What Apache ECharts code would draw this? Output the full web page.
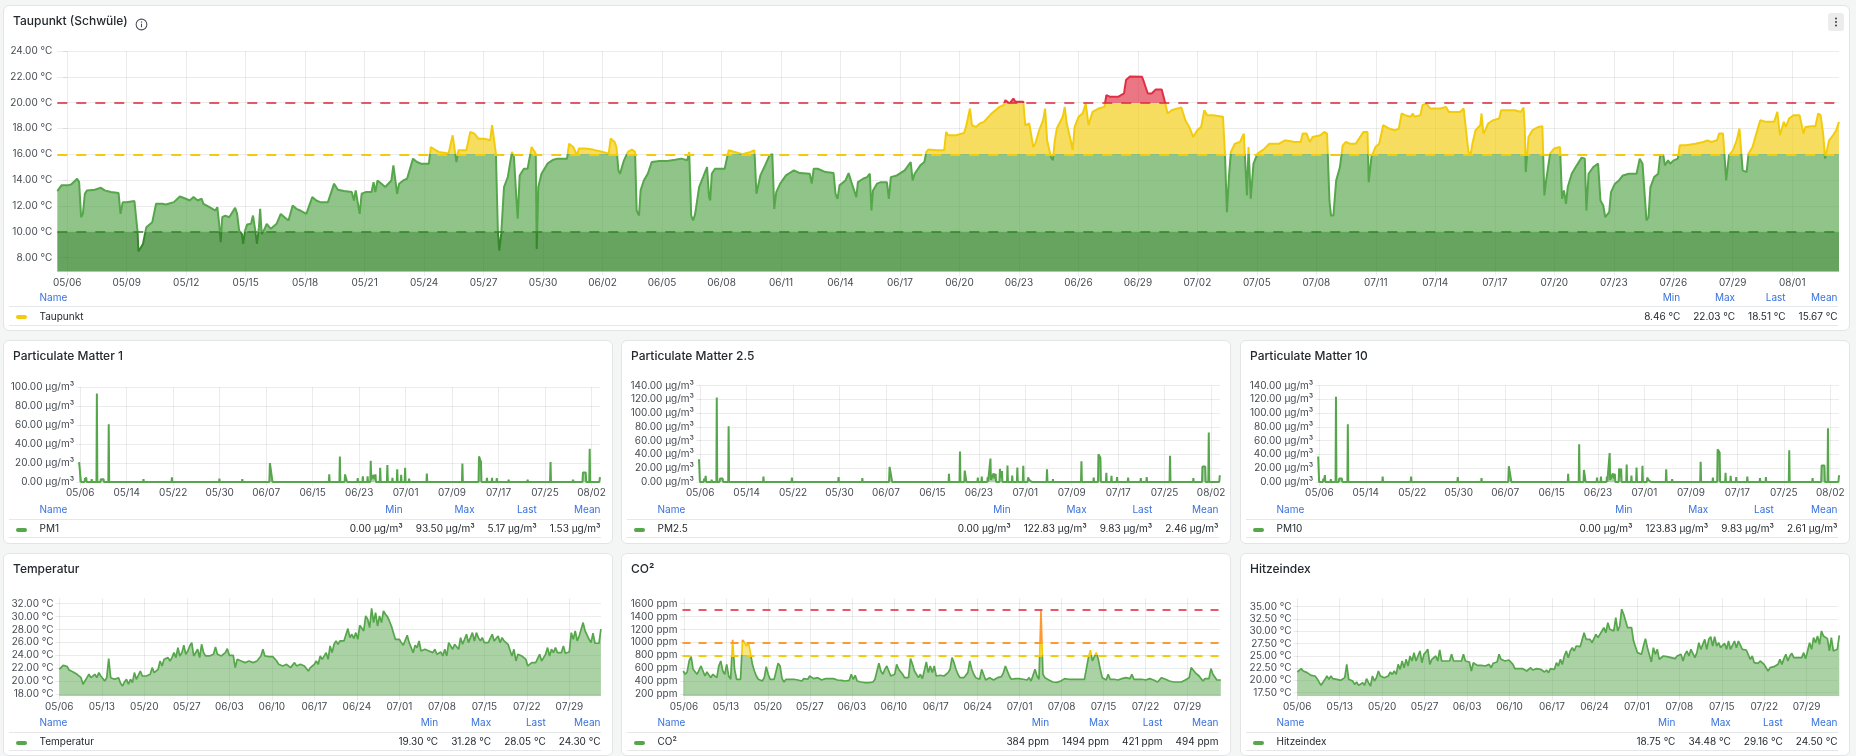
<!DOCTYPE html>
<html>
<head>
<meta charset="utf-8">
<script src="https://cdn.jsdelivr.net/npm/echarts@6/dist/echarts.min.js"></script>
<style>
  html, body { margin: 0; padding: 0; }
  body { width: 1856px; height: 756px; overflow: hidden; position: relative; background: #f4f5f5; font-family: Inter, "Noto Sans", sans-serif; }
  .panel { position: absolute; background: #fff; border: 1px solid #e3e4e6; border-radius: 6px; box-sizing: border-box; overflow: hidden; }
  .chart { position: absolute; left: -1px; top: -1px; right: -1px; bottom: -1px; }
  .title { position: absolute; left: 9px; top: 7px; font-size: 12px; font-weight: 500; line-height: 16px; color: #24292e; white-space: nowrap; }
  .info { position: absolute; left: 131px; top: 9px; }
  .menu { position: absolute; left: 1824px; top: 7px; width: 16px; height: 18px; background: #ececed; border-radius: 3px; }
  .legend { position: absolute; left: 5px; right: 11.5px; font-size: 10px; color: #24292e; }
  .legend table { width: 100%; border-collapse: collapse; }
  .legend th { font-weight: 400; color: #3871dc; text-align: right; padding: 0 0 0 13px; height: 19px; white-space: nowrap; }
  .legend th.name { text-align: left; width: 100%; padding-left: 30.5px; }
  .legend td { text-align: right; padding: 0 0 0 13px; height: 17.5px; border-top: 1px solid #e6e7e9; border-bottom: 1px solid #e6e7e9; white-space: nowrap; }
  .legend td.name { text-align: left; padding-left: 7px; }
  .mk { display: inline-block; width: 11px; height: 4px; border-radius: 2px; vertical-align: middle; margin-right: 12.5px; }
</style>
</head>
<body>
<script type="text/javascript">
// ---- Taupunkt: [Tage seit 05/06, °C]
var taupunkt = [[-0.50,13.15],[-0.29,13.59],[-0.20,13.72],[0,13.59],[0.20,13.66],[0.50,14.10],[0.60,13.84],[0.70,11.12],[0.79,11.38],[0.89,12.94],[1.00,13.20],[1.39,13.25],[1.70,13.40],[1.89,13.20],[2.20,13.07],[2.59,12.99],[2.69,11.38],[2.80,12.29],[2.99,12.29],[3.39,12.37],[3.55,9.96],[3.59,8.46],[3.69,8.46],[3.82,9.05],[3.99,10.35],[4.29,10.74],[4.48,12.16],[4.79,12.16],[4.98,12.11],[5.38,12.29],[5.68,12.73],[5.98,12.55],[6.18,12.42],[6.37,12.68],[6.58,12.42],[6.78,12.55],[6.87,12.16],[7.18,11.90],[7.47,11.64],[7.57,11.90],[7.68,10.35],[7.74,9.18],[7.82,11.12],[7.97,11.25],[8.17,11.12],[8.47,11.85],[8.57,11.38],[8.67,10.09],[8.81,9.83],[8.87,9.05],[8.97,10.09],[9.07,10.55],[9.27,10.61],[9.37,11.25],[9.46,10.35],[9.57,9.05],[9.67,10.35],[9.73,11.77],[9.81,9.83],[9.96,10.22],[10.06,10.61],[10.27,10.22],[10.37,10.35],[10.56,10.61],[10.77,11.38],[10.96,11.12],[11.16,10.87],[11.37,12.03],[11.46,12.16],[11.56,11.77],[11.76,11.64],[12.06,11.38],[12.36,12.68],[12.56,12.42],[12.76,12.29],[13.15,12.29],[13.46,13.72],[13.65,13.25],[13.96,13.15],[14.35,13.07],[14.46,12.42],[14.55,13.20],[14.65,13.07],[14.75,11.38],[14.85,12.94],[15.05,13.07],[15.35,13.07],[15.45,13.84],[15.54,13.07],[15.65,13.97],[15.85,13.72],[16.04,13.46],[16.35,13.97],[16.45,15.14],[16.54,15.01],[16.64,12.94],[16.74,13.72],[16.95,13.97],[17.14,14.10],[17.44,15.66],[17.64,15.40],[17.84,15.27],[18.24,15.27],[18.34,16.56],[18.54,16.36],[18.74,16.18],[19.23,16.05],[19.44,17.47],[19.54,17.34],[19.63,15.40],[19.73,16.31],[19.83,16.44],[20.13,16.31],[20.33,17.73],[20.54,17.60],[20.73,17.21],[21.03,17.21],[21.33,17.08],[21.43,18.25],[21.53,18.12],[21.62,16.05],[21.72,10.09],[21.79,8.53],[21.89,9.83],[22.03,13.46],[22.22,14.23],[22.43,16.18],[22.53,15.79],[22.62,13.46],[22.72,11.00],[22.82,14.36],[23.03,14.88],[23.22,14.88],[23.42,16.56],[23.63,16.05],[23.68,8.66],[23.76,13.46],[23.92,14.49],[24.22,15.27],[24.52,15.58],[24.71,15.66],[25.21,15.66],[25.31,16.82],[25.52,16.56],[25.71,15.92],[25.81,16.44],[26.12,16.44],[26.51,16.36],[27.01,16.18],[27.31,16.05],[27.41,17.21],[27.61,16.95],[27.70,16.56],[27.80,14.75],
[27.88,14.49],[28.08,15.53],[28.28,16.18],[28.48,16.36],[28.64,16.18],[28.72,11.64],[28.84,11.25],[28.92,13.20],[29.08,13.97],[29.28,14.49],[29.48,15.40],[29.87,15.48],[30.27,15.48],[30.67,15.58],[30.97,15.66],[31.27,15.53],[31.37,16.18],[31.47,11.25],[31.57,10.87],[31.67,11.38],[31.87,13.46],[32.07,14.23],[32.27,15.01],[32.37,12.68],[32.43,12.42],[32.51,14.49],[32.67,14.88],[33.16,14.88],[33.36,16.31],[33.66,16.18],[34.06,16.00],[34.46,16.18],[34.66,16.31],[34.76,12.94],[34.82,12.81],[34.96,14.36],[35.16,15.01],[35.42,15.92],[35.56,16.05],[35.66,11.77],[35.76,13.07],[35.96,13.72],[36.25,14.36],[36.65,14.75],[36.95,14.54],[37.45,14.49],[37.55,13.72],[37.65,14.88],[37.85,14.88],[38.25,14.62],[38.65,14.54],[38.75,12.94],[38.85,12.55],[38.95,13.59],[39.25,13.97],[39.41,14.54],[39.55,13.84],[39.65,13.97],[39.80,12.68],[39.88,13.84],[40.14,14.10],[40.34,14.23],[40.48,14.49],[40.56,11.64],[40.64,13.20],[40.84,13.72],[41.04,13.84],[41.34,13.84],[41.44,12.55],[41.54,14.23],[41.84,14.36],[42.24,14.75],[42.54,15.40],[42.64,13.97],[42.74,14.49],[43.03,15.14],[43.23,15.40],[43.33,16.18],[43.43,16.36],[43.83,16.31],[44.23,16.31],[44.33,17.73],[44.43,17.47],[44.83,17.47],[45.23,17.65],[45.33,18.12],[45.53,19.54],[45.63,18.25],[45.83,18.12],[46.03,18.38],[46.23,18.51],[46.62,19.16],[47.02,19.67],[47.22,19.80],[47.32,20.19],[47.52,19.93],[47.72,20.32],[47.82,20.06],[48.22,20.06],[48.32,18.25],[48.52,18.38],[48.72,16.56],[48.82,16.82],[49.02,17.86],[49.22,18.64],[49.32,19.54],[49.42,17.08],[49.61,15.79],[49.71,15.53],[49.81,17.08],[49.91,17.99],[50.21,18.90],[50.31,19.67],[50.41,18.38],[50.61,17.08],[50.71,16.31],[50.81,18.12],[51.01,18.90],[51.21,19.16],[51.37,19.93],[51.51,18.25],[51.71,19.28],[52.01,19.54],[52.31,19.67],[52.41,20.58],[52.61,20.45],[53.00,20.45],[53.30,20.71],[53.40,21.75],[53.60,22.03],[54.20,22.01],[54.30,21.62],[54.40,21.75],[54.50,20.71],[54.70,20.71],[54.90,21.02],[55.20,21.02],[55.36,20.06],[55.50,19.16],[55.70,19.41],[55.99,19.54],[56.19,19.62],[56.29,19.16],[56.39,18.64],[56.59,18.12],[56.79,17.34],[56.99,17.86],[57.19,18.12],[57.35,19.41],[57.49,19.03],[57.79,19.03],[58.29,18.90],[58.39,16.05],[58.49,11.51],[58.59,14.23],[58.69,16.18],[58.89,16.82],[59.15,16.95],
[59.34,17.60],[59.44,17.73],[59.50,12.81],[59.58,16.56],[59.69,12.55],[59.83,15.27],[60.03,16.05],[60.33,16.36],[60.63,16.82],[61.12,16.82],[61.42,17.08],[61.91,16.95],[62.21,16.95],[62.31,17.60],[62.51,17.60],[62.67,16.95],[62.81,17.34],[63.20,17.47],[63.40,17.73],[63.54,17.60],[63.66,12.42],[63.74,11.25],[63.86,11.25],[64.00,13.97],[64.19,15.01],[64.33,16.69],[64.49,16.95],[64.69,16.82],[64.99,16.82],[65.08,16.69],[65.38,17.73],[65.58,17.73],[65.64,13.84],[65.78,15.79],[65.98,16.56],[66.17,16.82],[66.37,18.25],[66.67,17.99],[66.97,17.86],[67.16,17.99],[67.30,19.16],[67.46,19.03],[67.76,18.90],[67.86,19.16],[67.96,18.90],[68.25,19.03],[68.35,19.80],[68.55,19.93],[68.75,19.54],[69.25,19.54],[69.34,19.67],[69.54,19.67],[69.68,19.28],[70.24,19.28],[70.43,19.54],[70.53,19.41],[70.67,16.18],[70.79,16.05],[70.87,16.82],[71.03,17.86],[71.27,18.25],[71.33,19.16],[71.42,17.60],[71.52,17.86],[71.66,18.38],[71.92,18.64],[72.22,18.77],[72.32,19.41],[72.61,19.41],[73.01,19.41],[73.31,19.28],[73.45,19.62],[73.51,18.12],[73.56,14.62],[73.70,17.34],[73.90,17.86],[74.20,18.12],[74.40,18.17],[74.50,12.81],[74.59,13.97],[74.79,16.05],[74.99,16.44],[75.29,16.56],[75.39,12.55],[75.49,13.20],[75.59,12.16],[75.68,13.46],[75.88,14.49],[76.08,15.01],[76.38,15.74],[76.54,15.66],[76.62,11.64],[76.73,14.49],[76.97,15.01],[77.21,15.27],[77.33,12.42],[77.47,12.03],[77.57,11.12],[77.67,11.00],[77.77,11.51],[77.86,13.07],[78.06,13.72],[78.26,13.97],[78.46,14.36],[78.76,14.49],[79.15,14.49],[79.31,15.66],[79.45,15.27],[79.55,15.40],[79.65,10.87],[79.75,11.12],[79.85,13.46],[80.04,14.23],[80.24,14.49],[80.34,15.92],[80.50,15.92],[80.58,15.14],[80.74,15.53],[80.84,15.27],[81.03,15.53],[81.23,15.66],[81.33,16.69],[81.63,16.69],[82.12,16.82],[82.52,16.95],[82.72,17.08],[82.92,16.95],[83.21,17.08],[83.31,17.60],[83.51,17.60],[83.67,13.97],[83.81,15.92],[84.01,16.31],[84.20,17.08],[84.34,17.99],[84.50,14.75],[84.70,14.62],[84.80,16.05],[85.00,16.56],[85.19,17.60],[85.39,18.64],[85.69,18.51],[86.09,18.51],[86.25,19.28],[86.38,17.47],[86.58,18.51],[86.68,18.12],[86.84,18.77],[87.08,19.03],[87.37,19.03],[87.57,17.60],[87.67,18.12],[87.97,18.17],[88.17,18.17],[88.31,19.16],[88.43,19.03],[88.56,17.60],[88.66,15.66],[88.76,15.53],[88.86,17.08],[89.06,17.47],[89.22,17.86],[89.36,18.51]];

// ---- Feinstaub: [Tage seit 05/06, µg/m³]
var pm1 = [[-0.2,21],[0.02,20.4],[0.12,0],[0.74,0],[0.82,4],[0.9,0.5],[1.02,5],[1.1,0],[1.9,0],[1.97,3],[2.04,0],[2.79,0],[2.86,93.5],[2.94,0],[3.47,0],[3.54,3],[3.8,2.5],[4.01,3],[4.08,0],[4.83,0],[4.9,61],[4.98,0],[5.51,0],[5.58,2],[5.65,0],[10.81,0],[10.88,3],[10.95,0],[15.71,0],[15.78,5],[15.85,0],[23.88,0],[23.95,3.5],[24.02,0],[27.82,0],[27.89,3],[27.96,0],[32.55,0],[32.65,20],[32.99,20],[33.09,0],[42.79,0],[42.86,8],[42.93,0],[44.61,0],[44.69,27],[44.77,0],[45.5,0],[45.58,8],[45.85,8],[45.93,0],[47.69,0],[47.76,4],[47.83,0],[48.57,0],[48.64,6],[48.71,0],[49.39,0],[49.46,6],[49.53,0],[49.93,0],[50.0,22.5],[50.08,3],[50.48,7.5],[50.65,3],[50.82,8],[50.9,0],[51.55,0],[51.63,15],[51.72,0],[52.78,0],[52.86,18],[52.95,0],[53.67,0],[53.74,4.5],[53.81,0],[54.48,0],[54.56,13.5],[54.64,0],[55.17,0],[55.24,7.5],[55.31,0],[55.84,0],[55.92,15],[56.0,0],[56.53,0],[56.6,3.5],[56.67,0],[59.59,0],[59.66,9],[59.73,0],[60.75,0],[60.82,2],[60.89,0],[65.7,0],[65.78,19.5],[65.86,0],[67.62,0],[67.69,2],[67.76,0],[68.56,0],[68.64,27],[68.98,21],[69.06,0],[69.93,0],[70.0,4.5],[70.07,0],[70.81,0],[70.88,4.5],[70.95,0],[71.63,0],[71.7,4],[71.77,0],[73.67,0],[73.74,2.5],[73.81,0],[75.92,0],[75.99,2],[76.06,0],[76.94,0],[77.01,2.5],[77.08,0],[80.87,0],[80.95,21],[81.03,0],[84.76,0],[84.83,2.5],[84.9,0],[86.45,0],[86.53,10],[87.01,10],[87.09,0],[87.61,0],[87.69,35],[87.77,0],[88.71,0],[88.78,2],[88.85,0],[89.35,0],[89.46,5.2]];
var pm25 = [[-0.2,33],[-0.14,33],[-0.04,0],[0.6,0],[0.68,5],[0.8,1],[0.95,9],[1.03,0],[1.91,0],[1.98,3.5],[2.05,0],[2.79,0],[2.86,122.8],[2.94,0],[3.34,0],[3.41,5],[3.65,4],[3.88,5],[3.95,0],[4.83,0],[4.9,81],[4.98,0],[5.52,0],[5.59,2.5],[5.66,0],[7.77,0],[7.83,1.5],[7.89,0],[10.83,0],[10.9,8],[10.97,0],[15.73,0],[15.8,6.5],[15.87,0],[16.77,0],[16.83,2.5],[16.89,0],[23.77,0],[23.84,7],[23.91,0],[25.62,0],[25.68,1.5],[25.74,0],[27.86,0],[27.93,5.5],[28.0,0],[32.53,0],[32.63,22],[32.97,22],[33.07,0],[38.77,0],[38.83,1.5],[38.89,0],[39.79,0],[39.85,1.5],[39.91,0],[42.78,0],[42.85,12],[42.92,0],[44.67,0],[44.75,44.5],[44.83,0],[45.49,0],[45.57,16.5],[45.78,16.5],[45.86,0],[47.75,0],[47.82,6.5],[47.89,0],[48.43,0],[48.5,8],[48.57,0],[49.45,0],[49.52,7],[49.59,0],[49.92,0],[50.0,34],[50.08,3],[50.54,12.5],[50.7,5],[50.89,12],[50.97,0],[51.55,0],[51.63,19],[51.8,6],[51.98,16],[52.06,0],[52.85,0],[52.93,24],[53.01,0],[53.68,0],[53.75,9.5],[53.82,0],[54.55,0],[54.63,21],[54.71,0],[55.57,0],[55.65,23.5],[55.73,0],[56.4,0],[56.47,6.5],[56.7,3],[57.02,5],[57.09,0],[59.66,0],[59.74,18.5],[59.82,0],[60.69,0],[60.76,4],[60.83,0],[65.59,0],[65.67,30],[65.75,0],[67.71,0],[67.78,6.5],[67.85,0],[68.52,0],[68.6,40.5],[68.94,35],[69.02,0],[69.89,0],[69.96,13.5],[70.03,0],[70.77,0],[70.84,9],[70.91,0],[71.73,0],[71.8,7],[71.87,0],[73.64,0],[73.71,6.5],[73.78,0],[75.82,0],[75.89,5.5],[75.96,0],[76.84,0],[76.91,7],[76.98,0],[77.59,0],[77.66,2.5],[77.73,0],[79.78,0],[79.84,1.5],[79.9,0],[80.85,0],[80.93,38],[81.01,0],[84.88,0],[84.95,5.5],[85.02,0],[86.43,0],[86.51,22.5],[86.99,22.5],[87.07,0],[87.52,0],[87.6,72],[87.68,0],[88.62,0],[88.69,2.5],[88.76,0],[89.4,0],[89.5,9.8]];
var pm10 = [[-0.2,37],[-0.14,37],[-0.04,0],[0.6,0],[0.68,5],[0.8,1],[0.95,10],[1.03,0],[1.91,0],[1.98,4],[2.05,0],[2.79,0],[2.86,123.8],[2.94,0],[3.34,0],[3.41,5],[3.65,4],[3.88,5],[3.95,0],[4.83,0],[4.9,84],[4.98,0],[5.52,0],[5.59,2.5],[5.66,0],[7.77,0],[7.83,1.5],[7.89,0],[10.83,0],[10.9,8],[10.97,0],[15.73,0],[15.8,8],[15.87,0],[16.77,0],[16.83,2.5],[16.89,0],[23.77,0],[23.84,7],[23.91,0],[25.62,0],[25.68,1.5],[25.74,0],[27.86,0],[27.93,5.5],[28.0,0],[32.53,0],[32.63,23],[32.97,23],[33.07,0],[38.77,0],[38.83,1.5],[38.89,0],[39.79,0],[39.85,1.5],[39.91,0],[42.78,0],[42.85,12],[42.92,0],[44.67,0],[44.75,55],[44.83,0],[45.49,0],[45.57,17.5],[45.78,17.5],[45.86,0],[47.75,0],[47.82,6.5],[47.89,0],[48.43,0],[48.5,8],[48.57,0],[49.45,0],[49.52,8],[49.59,0],[49.92,0],[50.0,42],[50.08,3],[50.54,12.5],[50.7,5],[50.89,12],[50.97,0],[51.55,0],[51.63,20],[51.8,7],[51.98,19.5],[52.06,0],[52.85,0],[52.93,25.5],[53.01,0],[53.68,0],[53.75,9.5],[53.82,0],[54.55,0],[54.63,21],[54.71,0],[55.57,0],[55.65,23.5],[55.73,0],[56.4,0],[56.47,6.5],[56.7,3],[57.02,5],[57.09,0],[59.66,0],[59.74,18.5],[59.82,0],[60.69,0],[60.76,4],[60.83,0],[65.59,0],[65.67,29.5],[65.75,0],[67.71,0],[67.78,6.5],[67.85,0],[68.52,0],[68.6,47.5],[68.94,43],[69.02,0],[69.89,0],[69.96,13.5],[70.03,0],[70.77,0],[70.84,9],[70.91,0],[71.73,0],[71.8,7],[71.87,0],[73.64,0],[73.71,8],[73.78,0],[75.82,0],[75.89,5.5],[75.96,0],[76.84,0],[76.91,7],[76.98,0],[77.59,0],[77.66,2.5],[77.73,0],[79.78,0],[79.84,1.5],[79.9,0],[80.85,0],[80.93,46],[81.01,0],[84.88,0],[84.95,5.5],[85.02,0],[86.43,0],[86.51,24],[86.99,24],[87.07,0],[87.52,0],[87.6,78],[87.68,0],[88.62,0],[88.69,2.5],[88.76,0],[89.4,0],[89.5,9.8]];

var tempStart = 0, tempStep = 0.3255;
var tempVals = [21.86,21.76,22.48,22.38,22.27,21.76,21.6,21.45,21.24,21.09,20.83,20.57,19.55,19.8,20.57,21.09,20.57,20.32,21.09,20.57,21.35,20.83,20.57,20.06,20.57,23.51,20.57,20.83,20.32,20.06,20.57,19.7,19.3,19.91,20.32,19.55,20.32,19.8,21.35,20.32,20.06,21.6,20.83,21.09,20.83,21.09,21.09,22.12,21.35,21.6,21.86,23.15,22.38,23.4,23.15,23.66,23.15,23.66,24.43,23.66,25.21,23.92,24.43,25.57,24.18,24.69,25.46,25.98,23.92,24.18,24.95,23.66,25.72,24.43,23.92,24.18,23.92,23.82,24.18,25.31,24.18,24.02,23.92,23.82,24.43,25.05,24.02,24.02,24.02,22.12,23.4,23.3,23.15,22.99,22.89,23.15,23.15,22.89,22.89,23.15,23.15,22.89,23.92,24.95,23.92,23.92,23.82,23.66,23.82,23.92,23.15,22.63,22.48,22.38,22.48,22.63,22.38,22.12,22.27,22.89,22.38,22.48,22.63,22.48,22.38,22.12,21.6,22.12,22.38,22.63,23.15,22.63,23.92,23.4,23.15,24.43,23.4,25.46,24.43,25.72,26.24,25.72,26.24,26.24,26.24,26.49,28.14,26.75,27.27,26.6,27.52,26.49,28.65,28.81,27.78,30.1,29.58,28.29,31.28,29.07,30.61,28.55,30.1,29.07,30.87,30.35,29.99,29.32,28.55,28.55,26.49,26.75,26.49,25.98,25.57,25.46,27.11,25.98,26.24,24.43,25.57,25.21,26.24,24.69,24.85,24.95,24.85,24.69,24.54,24.43,24.95,24.18,24.43,24.54,23.92,24.95,23.92,25.98,25.46,24.95,25.72,25.46,24.95,26.75,25.72,26.49,27.27,25.98,26.75,27.52,26.24,27.52,26.75,26.24,26.75,25.98,26.24,25.98,25.72,27.27,26.24,25.98,27.01,25.98,26.75,26.24,25.98,25.72,25.46,23.92,24.95,23.15,24.18,24.02,23.92,23.66,23.4,22.38,22.63,22.89,22.89,22.89,23.15,24.18,23.15,23.66,24.18,25.21,23.92,24.95,24.43,25.21,24.43,24.69,24.43,25.46,24.33,24.43,24.54,27.52,26.49,27.78,26.24,27.01,27.27,29.07,27.78,27.52,26.49,25.98,27.42,25.88,25.98,25.88,28.05];

var co2Start = -0.13, co2Step = 0.3298;
var co2Vals = [560,509,545,715,782,586,560,509,483,638,560,483,545,560,457,509,483,457,638,715,560,509,663,483,432,1040,586,432,406,432,1040,998,946,998,843,663,560,483,432,442,406,457,627,509,432,406,432,406,679,638,442,390,432,421,432,421,432,427,421,432,406,442,421,432,483,457,442,432,457,432,421,432,442,457,442,432,442,432,421,406,416,421,406,432,416,509,432,494,406,421,390,380,380,384,380,384,390,432,406,679,560,509,586,638,560,483,457,509,663,586,612,509,457,432,457,751,663,560,509,457,509,442,457,699,535,638,535,638,483,483,494,473,483,494,535,586,766,689,586,509,457,432,457,432,535,715,586,509,457,432,432,586,612,421,406,457,442,421,432,457,432,473,535,638,612,483,432,457,442,432,442,421,432,406,421,457,406,432,586,483,432,1494,509,457,442,421,406,390,384,384,384,406,390,442,457,432,421,432,427,432,421,432,427,432,406,766,880,715,689,845,740,586,457,432,421,509,432,457,432,442,421,432,442,421,457,432,442,509,432,457,432,406,432,457,421,406,442,457,421,406,390,406,457,442,432,421,406,406,390,406,390,406,390,406,421,432,457,612,576,535,509,483,442,406,442,432,442,597,509,483,421,406,421];

var hitzeStart = 0, hitzeStep = 0.3262;
var hitzeVals = [21.70,21.57,22.38,21.91,22.11,21.57,21.23,21.02,20.69,20.89,20.35,20.21,18.99,19.19,20.21,20.89,20.21,20.89,20.35,20.69,20.21,20.41,20.01,19.67,20.55,23.26,20.21,20.55,19.87,19.19,19.67,18.99,18.75,19.53,18.99,20.35,19.53,18.85,20.89,19.87,20.55,21.91,20.89,21.02,20.55,20.89,20.89,21.70,21.23,21.91,21.23,23.26,22.25,23.94,22.58,24.28,22.92,24.96,23.94,25.64,23.94,24.96,25.98,23.60,25.30,25.77,26.32,23.26,24.28,23.94,24.96,23.94,26.18,23.94,24.28,23.94,24.15,23.94,25.30,23.94,23.74,23.94,23.74,23.94,25.30,23.94,23.74,23.74,21.91,23.60,23.26,23.06,22.92,23.06,23.26,22.92,22.58,23.26,22.58,23.47,23.26,23.74,25.30,24.28,24.15,23.94,23.74,24.15,23.94,23.26,22.38,22.58,22.38,22.25,22.38,22.11,21.91,22.25,22.58,22.11,22.25,22.38,22.11,22.25,21.91,21.70,22.11,21.57,22.38,22.58,22.25,23.60,22.92,24.28,23.26,24.96,25.98,24.62,25.98,26.66,25.98,26.99,26.86,26.86,26.99,29.71,28.35,28.01,28.35,27.67,28.01,29.37,28.69,29.03,30.05,30.73,29.71,31.74,30.39,30.73,30.05,32.76,30.05,31.07,34.48,33.44,33.10,30.73,31.07,30.73,28.01,28.01,25.64,25.77,25.30,26.99,28.49,26.66,26.33,23.74,26.66,25.30,26.32,24.28,24.62,24.96,24.96,24.82,24.96,24.62,24.96,24.42,24.96,24.62,25.30,23.94,25.30,25.98,24.96,26.32,25.98,24.62,25.64,27.67,26.32,27.33,28.35,26.32,28.35,28.89,26.99,28.89,26.99,27.67,26.66,26.99,27.54,26.32,28.01,26.32,26.66,28.01,26.66,28.01,28.35,26.32,26.66,26.18,25.98,24.28,24.96,23.60,23.94,23.47,23.94,23.60,23.26,22.58,21.91,22.58,22.79,22.79,22.92,23.26,24.28,23.26,24.42,25.30,23.94,24.96,25.50,24.62,24.96,24.62,24.96,24.62,25.64,24.42,24.62,27.67,26.32,28.69,27.67,29.03,27.33,30.05,29.03,28.69,28.49,25.98,28.69,25.98,26.18,26.32,29.16];

// ---- Achsen-Ticks
var ticks3d = [0,3,6,9,12,15,18,21,24,27,30,33,36,39,42,45,48,51,54,57,60,63,66,69,72,75,78,81,84,87];
var ticks8d = [0,8,16,24,32,40,48,56,64,72,80,88];
var ticks7d = [0,7,14,21,28,35,42,49,56,63,70,77,84];
var taupunktTicks = [8,10,12,14,16,18,20,22,24];
var pm1Ticks = [0,20,40,60,80,100];
var pm25Ticks = [0,20,40,60,80,100,120,140];
var tempTicks = [18,20,22,24,26,28,30,32];
var co2Ticks = [200,400,600,800,1000,1200,1400,1600];
var hitzeTicks = [17.5,20,22.5,25,27.5,30,32.5,35];

// ---- Schwellwerte
var taupunktSteps = [10, 16, 20];
var co2Steps = [800, 1000, 1500];

// ---- Legenden: Min, Max, Last, Mean
var taupunktStats = ['8.46 °C','22.03 °C','18.51 °C','15.67 °C'];
var pm1Stats = ['0.00 µg/m³','93.50 µg/m³','5.17 µg/m³','1.53 µg/m³'];
var pm25Stats = ['0.00 µg/m³','122.83 µg/m³','9.83 µg/m³','2.46 µg/m³'];
var pm10Stats = ['0.00 µg/m³','123.83 µg/m³','9.83 µg/m³','2.61 µg/m³'];
var tempStats = ['19.30 °C','31.28 °C','28.05 °C','24.30 °C'];
var co2Stats = ['384 ppm','1494 ppm','421 ppm','494 ppm'];
var hitzeStats = ['18.75 °C','34.48 °C','29.16 °C','24.50 °C'];

var GREEN = '#56A64B', DKGREEN = '#37872D', YELLOW = '#F2CC0C', ORANGE = '#FF9830', RED = '#E02F44';
var GRID = 'rgba(0,0,0,0.075)', LABEL = '#474c53';

function seq(start, step, vals) {
  return vals.map(function (v, i) { return [start + i * step, v]; });
}
function dayLabel(d) {
  var t = new Date(2025, 4, 6 + Math.round(d));
  return String(t.getMonth() + 1).padStart(2, '0') + '/' + String(t.getDate()).padStart(2, '0');
}
function simpleSeries(data, w) {
  return [{
    type: 'line', data: data, showSymbol: false, symbol: 'none',
    lineStyle: { width: w, color: GREEN }, itemStyle: { color: GREEN },
    areaStyle: { color: 'rgba(86,166,75,0.5)', opacity: 1, origin: 'start' }
  }];
}
function dashed(values, colors, dash) {
  return {
    symbol: 'none', silent: true, label: { show: false }, animation: false,
    data: values.map(function (v, i) {
      return { yAxis: v, lineStyle: { color: colors[i], type: dash, width: 2 } };
    })
  };
}

var panels = [
  { title: 'Taupunkt (Schwüle)', extras: true, box: [3, 5, 1847, 326], grid: [54.3, 46, 11, 59.3],
    x: [-0.5, 89.36], xt: ticks3d, y: [6.9, 24], yt: taupunktTicks, fmt: function (v) { return v.toFixed(2) + ' °C'; },
    legendTop: 281, name: 'Taupunkt', mk: YELLOW, stats: taupunktStats,
    visualMap: [
      { type: 'piecewise', show: false, seriesIndex: 0, dimension: 1, pieces: [
        { lt: 10, color: 'rgba(55,135,45,0.76)' }, { gte: 10, lt: 16, color: 'rgba(86,166,75,0.66)' },
        { gte: 16, lt: 20, color: 'rgba(242,204,12,0.66)' }, { gte: 20, color: 'rgba(224,47,68,0.66)' }] },
      { type: 'piecewise', show: false, seriesIndex: 1, dimension: 1, pieces: [
        { lt: 10, color: DKGREEN }, { gte: 10, lt: 16, color: GREEN },
        { gte: 16, lt: 20, color: YELLOW }, { gte: 20, color: RED }] }
    ],
    series: [
      { type: 'line', data: taupunkt, showSymbol: false, symbol: 'none', silent: true, z: 1,
        lineStyle: { width: 0 }, areaStyle: { opacity: 1, origin: 'start' } },
      { type: 'line', data: taupunkt, showSymbol: false, symbol: 'none', z: 2, lineStyle: { width: 2 },
        markLine: dashed(taupunktSteps, ['rgba(55,135,45,0.8)', YELLOW, 'rgba(224,47,68,0.8)'], [10, 9]) }
    ] },
  { title: 'Particulate Matter 1', box: [3, 340, 610, 204], grid: [76.1, 47.3, 12.8, 62],
    x: [-0.2, 89.5], xt: ticks8d, y: [0, 100], yt: pm1Ticks, fmt: function (v) { return v.toFixed(2) + ' µg/m³'; },
    legendTop: 158.5, name: 'PM1', mk: GREEN, stats: pm1Stats, series: simpleSeries(pm1, 2) },
  { title: 'Particulate Matter 2.5', box: [621, 340, 610, 204], grid: [78, 45.7, 11.2, 62],
    x: [-0.2, 89.5], xt: ticks8d, y: [0, 140], yt: pm25Ticks, fmt: function (v) { return v.toFixed(2) + ' µg/m³'; },
    legendTop: 158.5, name: 'PM2.5', mk: GREEN, stats: pm25Stats, series: simpleSeries(pm25, 2) },
  { title: 'Particulate Matter 10', box: [1240, 340, 610, 204], grid: [78.2, 45.7, 11, 62],
    x: [-0.2, 89.5], xt: ticks8d, y: [0, 140], yt: pm25Ticks, fmt: function (v) { return v.toFixed(2) + ' µg/m³'; },
    legendTop: 158.5, name: 'PM10', mk: GREEN, stats: pm10Stats, series: simpleSeries(pm10, 2) },
  { title: 'Temperatur', box: [3, 553, 610, 203], grid: [55.5, 45.3, 12, 60],
    x: [-0.13, 89.2], xt: ticks7d, y: [17.74, 32.82], yt: tempTicks, fmt: function (v) { return v.toFixed(2) + ' °C'; },
    legendTop: 158.5, name: 'Temperatur', mk: GREEN, stats: tempStats, series: simpleSeries(seq(tempStart, tempStep, tempVals), 1.7) },
  { title: 'CO²', box: [621, 553, 610, 203], grid: [61.5, 45.3, 10.8, 60],
    x: [-0.25, 89.47], xt: ticks7d, y: [174, 1682], yt: co2Ticks, fmt: function (v) { return v + ' ppm'; },
    legendTop: 158.5, name: 'CO²', mk: GREEN, stats: co2Stats,
    visualMap: [{ type: 'piecewise', show: false, seriesIndex: 0, dimension: 1, pieces: [
      { lt: 800, color: GREEN }, { gte: 800, lt: 1000, color: YELLOW },
      { gte: 1000, lt: 1500, color: ORANGE }, { gte: 1500, color: RED }] }],
    series: [{ type: 'line', data: seq(co2Start, co2Step, co2Vals), showSymbol: false, symbol: 'none',
      lineStyle: { width: 1.7 }, areaStyle: { opacity: 0.5, origin: 'start' },
      markLine: dashed(co2Steps, [YELLOW, ORANGE, 'rgba(224,47,68,0.8)'], [8, 8]) }] },
  { title: 'Hitzeindex', box: [1240, 553, 610, 203], grid: [56.5, 45.3, 11.8, 60],
    x: [-0.13, 89.2], xt: ticks7d, y: [16.82, 36.7], yt: hitzeTicks, fmt: function (v) { return v.toFixed(2) + ' °C'; },
    legendTop: 158.5, name: 'Hitzeindex', mk: GREEN, stats: hitzeStats, series: simpleSeries(seq(hitzeStart, hitzeStep, hitzeVals), 1.7) }
];

function buildPanel(p) {
  var el = document.createElement('div');
  el.className = 'panel';
  el.style.left = p.box[0] + 'px'; el.style.top = p.box[1] + 'px';
  el.style.width = p.box[2] + 'px'; el.style.height = p.box[3] + 'px';
  document.body.appendChild(el);

  var cv = document.createElement('div');
  cv.className = 'chart';
  el.appendChild(cv);

  var t = document.createElement('div');
  t.className = 'title';
  t.textContent = p.title;
  el.appendChild(t);

  if (p.extras) {
    var info = document.createElement('div');
    info.className = 'info';
    info.innerHTML = '<svg width="13" height="13" viewBox="0 0 16 16"><circle cx="8" cy="8" r="6.6" fill="none" stroke="#4b5057" stroke-width="1.3"/><rect x="7.35" y="7" width="1.3" height="4.4" fill="#4b5057"/><circle cx="8" cy="4.9" r="0.9" fill="#4b5057"/></svg>';
    el.appendChild(info);
    var menu = document.createElement('div');
    menu.className = 'menu';
    menu.innerHTML = '<svg width="16" height="18" viewBox="0 0 16 18"><circle cx="8" cy="5.5" r="1" fill="#3a3f45"/><circle cx="8" cy="9" r="1" fill="#3a3f45"/><circle cx="8" cy="12.5" r="1" fill="#3a3f45"/></svg>';
    el.appendChild(menu);
  }

  var lg = document.createElement('div');
  lg.className = 'legend';
  lg.style.top = p.legendTop + 'px';
  lg.innerHTML = '<table><tr><th class="name">Name</th><th>Min</th><th>Max</th><th>Last</th><th>Mean</th></tr>' +
    '<tr><td class="name"><span class="mk" style="background:' + p.mk + '"></span>' + p.name + '</td>' +
    p.stats.map(function (s) { return '<td>' + s + '</td>'; }).join('') + '</tr></table>';
  el.appendChild(lg);

  var chart = echarts.init(cv, null, { renderer: 'canvas' });
  var labelStyle = { color: LABEL, fontSize: 10, fontFamily: 'Inter' };
  chart.setOption({
    animation: false,
    grid: { left: p.grid[0], top: p.grid[1], right: p.grid[2], bottom: p.grid[3], containLabel: false, outerBoundsMode: 'none' },
    xAxis: {
      type: 'value', min: p.x[0], max: p.x[1],
      axisLine: { show: false },
      axisTick: { show: true, length: 4, customValues: p.xt, lineStyle: { color: GRID } },
      splitLine: { show: true, lineStyle: { color: GRID, width: 1 } },
      axisLabel: Object.assign({ customValues: p.xt, margin: 6, formatter: dayLabel }, labelStyle)
    },
    yAxis: {
      type: 'value', min: p.y[0], max: p.y[1],
      axisLine: { show: false },
      axisTick: { show: true, length: 4, customValues: p.yt, lineStyle: { color: GRID } },
      splitLine: { show: true, lineStyle: { color: GRID, width: 1 } },
      axisLabel: Object.assign({ customValues: p.yt, margin: 5, formatter: p.fmt }, labelStyle)
    },
    visualMap: p.visualMap || [],
    series: p.series
  });
}

panels.forEach(buildPanel);
</script>
</body>
</html>
